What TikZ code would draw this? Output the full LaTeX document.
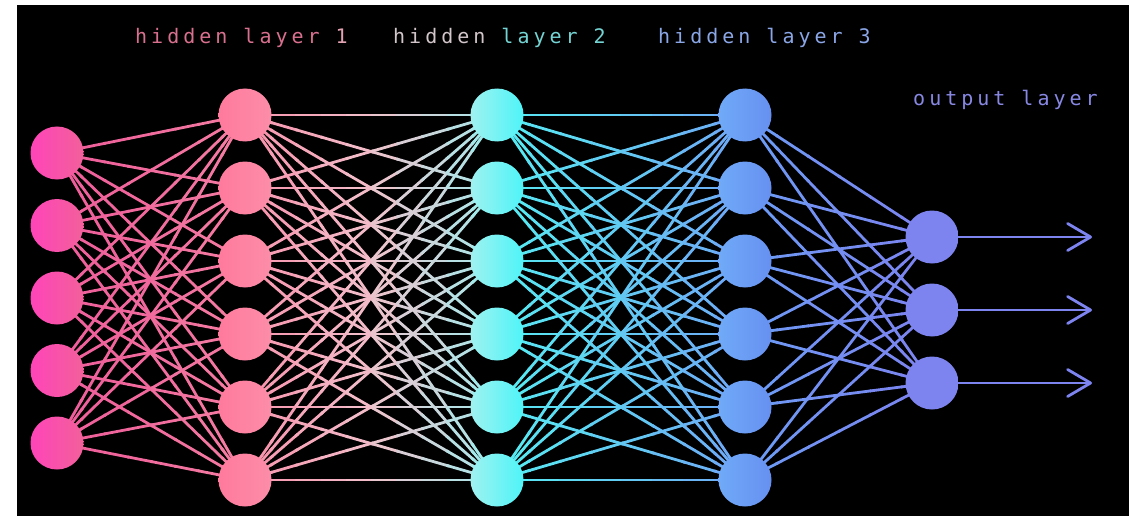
\documentclass[tikz,border=0pt]{standalone}
\usepackage{fontspec}
\usetikzlibrary{calc,arrows.meta}
\newfontfamily\labfont[LetterSpace=20]{DejaVu Sans Mono}
\pgfdeclarelayer{back}
\pgfdeclarelayer{edges}
\pgfsetlayers{back,edges,main}
% node colours
\definecolor{inL}{HTML}{FF44B9}
\definecolor{inR}{HTML}{F2609A}
\definecolor{haL}{HTML}{FF7A9D}
\definecolor{haR}{HTML}{FC8DA8}
\definecolor{hbL}{HTML}{9FF2F0}
\definecolor{hbR}{HTML}{4EF4F8}
\definecolor{hcL}{HTML}{70AAF8}
\definecolor{hcR}{HTML}{6690F0}
\definecolor{outC}{HTML}{7E84EF}
% edge colours
\definecolor{e1A}{HTML}{EE5C9A}
\definecolor{e1M}{HTML}{F06A9C}
\definecolor{e1B}{HTML}{F47FA2}
\definecolor{e2A}{HTML}{F790AA}
\definecolor{e2M}{HTML}{F2C0CA}
\definecolor{e2B}{HTML}{9CEEEE}
\definecolor{e3A}{HTML}{56ECF2}
\definecolor{e3M}{HTML}{62CAF2}
\definecolor{e3B}{HTML}{6FA6F6}
\definecolor{e4A}{HTML}{6C9CF4}
\definecolor{e4M}{HTML}{748EF2}
\definecolor{e4B}{HTML}{7C82EE}
% text colours
\definecolor{tA}{HTML}{D9708F}
\definecolor{tAb}{HTML}{E3A3B3}
\definecolor{tB}{HTML}{D2C6CB}
\definecolor{tBb}{HTML}{74D4D4}
\definecolor{tC}{HTML}{8AA6E6}
\definecolor{tD}{HTML}{8888E4}
\tikzset{
  neuron/.style={circle, minimum size=53pt, inner sep=0pt, shading=axis},
  edge/.style={line width=2.8pt, line cap=butt},
  lab/.style={font=\labfont\fontsize{20}{21}\selectfont, inner sep=0pt, anchor=base west},
  outarrow/.style={line width=2.8pt, draw=outC, -{Straight Barb[length=23pt,width=27pt,round]}}
}
\newcommand\gradline[6]{%
  \foreach \gk in {1,...,#6}{%
    \pgfmathsetmacro\ta{(\gk-1)/#6}%
    \pgfmathsetmacro\tb{min(1,\gk/#6+0.01)}%
    \pgfmathsetmacro\tm{(\gk-0.5)/#6}%
    \ifdim\tm pt<0.5pt
      \pgfmathsetmacro\pp{\tm*200}%
      \colorlet{segcol}{#4!\pp!#3}%
    \else
      \pgfmathsetmacro\pp{(\tm-0.5)*200}%
      \colorlet{segcol}{#5!\pp!#4}%
    \fi
    \draw[edge,segcol] ($#1!\ta!#2$) -- ($#1!\tb!#2$);
  }}
\begin{document}
\begin{tikzpicture}[x=1pt,y=-1pt]
\useasboundingbox (0,0) rectangle (1129,516);
\begin{pgfonlayer}{back}
\fill[white] (0,0) rectangle (1129,516);
\fill[black] (17,5) rectangle (1129,516);
\end{pgfonlayer}
% nodes
\foreach \n in {1,...,5}
  \node[neuron, left color=inL, right color=inR] (i\n) at (57,{153+72.5*(\n-1)}) {};
\foreach \n in {1,...,6}{
  \node[neuron, left color=haL, right color=haR] (a\n) at (245,{115+73*(\n-1)}) {};
  \node[neuron, left color=hbL, right color=hbR] (b\n) at (497,{115+73*(\n-1)}) {};
  \node[neuron, left color=hcL, right color=hcR] (c\n) at (745,{115+73*(\n-1)}) {};
}
\foreach \n in {1,...,3}{
  \node[neuron, left color=outC, right color=outC] (o\n) at (932,{237+73*(\n-1)}) {};
  \coordinate (t\n) at (1092,{237+73*(\n-1)});
}
% connections
\begin{pgfonlayer}{edges}
\foreach \p in {1,...,5}\foreach \q in {1,...,6}{\gradline{(i\p)}{(a\q)}{e1A}{e1M}{e1B}{8}}
\foreach \p in {1,...,6}\foreach \q in {1,...,6}{\gradline{(a\p)}{(b\q)}{e2A}{e2M}{e2B}{10}}
\foreach \p in {1,...,6}\foreach \q in {1,...,6}{\gradline{(b\p)}{(c\q)}{e3A}{e3M}{e3B}{8}}
\foreach \p in {1,...,6}\foreach \q in {1,...,3}{\gradline{(c\p)}{(o\q)}{e4A}{e4M}{e4B}{6}}
\foreach \n in {1,...,3}{\draw[outarrow] (o\n.center) -- (t\n);}
\end{pgfonlayer}
% labels
\node[lab] (L1) at (135,44) {{\color{tA}hidden layer }{\color{tAb}1}};
\node[lab] (L2) at (393,44) {{\color{tB}hidden }{\color{tBb}layer 2}};
\node[lab, text=tC] (L3) at (658,44) {hidden layer 3};
\node[lab, text=tD] (L4) at (913,106) {output layer};
\end{tikzpicture}
\end{document}
